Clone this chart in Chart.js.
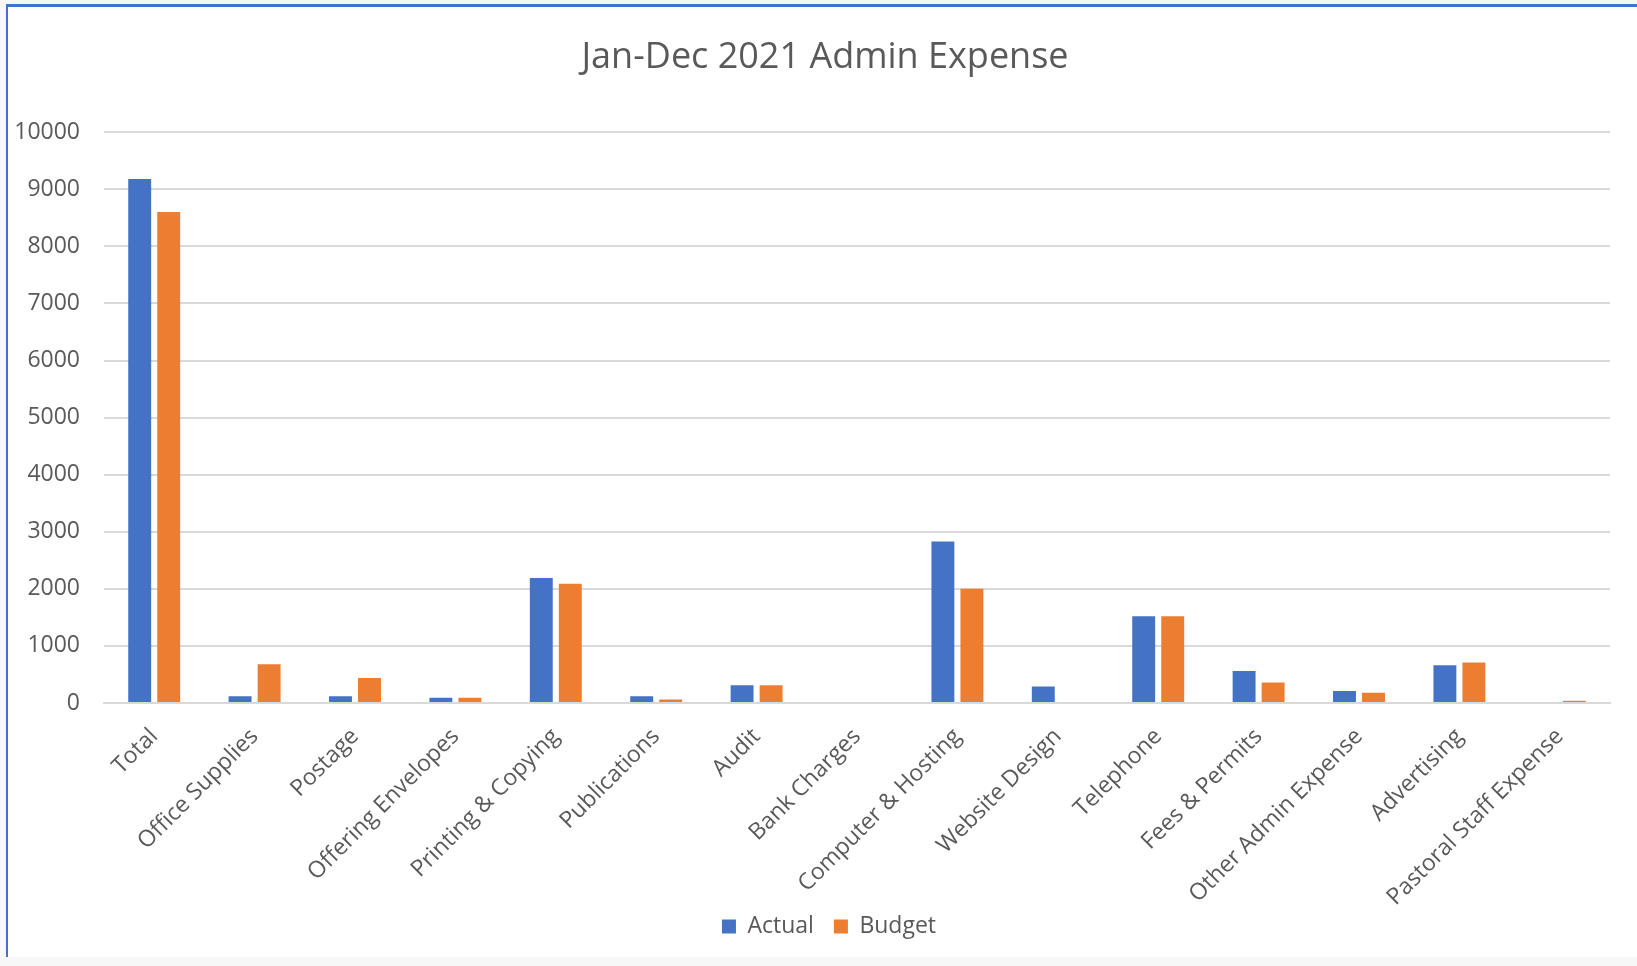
<!DOCTYPE html>
<html>
<head>
<meta charset="utf-8">
<script src="https://cdn.jsdelivr.net/npm/chart.js@4"></script>
<style>
  html, body { margin: 0; padding: 0; background: #f7f7f7; }
  #quadro {
    position: absolute; left: 6px; top: 4px; width: 1631px; height: 953px;
    background: #ffffff; border-left: 2px solid #4472c4; border-top: 3px solid #4472c4;
    box-sizing: border-box;
  }
</style>
</head>
<body>
<div id="quadro"><canvas id="chart-despesas"></canvas></div>
<script>
const categorias = [
  "Total", "Office Supplies", "Postage", "Offering Envelopes", "Printing & Copying",
  "Publications", "Audit", "Bank Charges", "Computer & Hosting", "Website Design",
  "Telephone", "Fees & Permits", "Other Admin Expense", "Advertising", "Pastoral Staff Expense"
];
const valoresActual = [9180, 120, 120, 90, 2190, 120, 310, 0, 2830, 290, 1520, 560, 210, 660, 0];
const valoresBudget = [8600, 680, 440, 90, 2090, 60, 310, 0, 2000, 0, 1520, 360, 180, 710, 40];
const ticksY = [0, 1000, 2000, 3000, 4000, 5000, 6000, 7000, 8000, 9000, 10000];

const corActual = "#4472c4";
const corBudget = "#ed7d31";
const corTexto = "#595959";
const corGrade = "#d9d9d9";
const fonte = "'Open Sans', 'Noto Sans', sans-serif";

// centraliza titulo e legenda como no Excel e libera o recorte dos rotulos do eixo x
const ajusteLayout = {
  id: "ajusteLayout",
  afterLayout(chart) {
    if (chart.titleBlock) { chart.titleBlock.left += 13; chart.titleBlock.right += 13; }
    if (chart.legend) {
      chart.legend.left += 17; chart.legend.right += 17;
      chart.legend.top -= 9; chart.legend.bottom -= 9;
    }
    chart.scales.x.bottom = chart.height;
  }
};

const ctx = document.getElementById("chart-despesas");

new Chart(ctx, {
  type: "bar",
  data: {
    labels: categorias,
    datasets: [
      { label: "Actual", data: valoresActual, backgroundColor: corActual },
      { label: "Budget", data: valoresBudget, backgroundColor: corBudget }
    ]
  },
  plugins: [ajusteLayout],
  options: {
    responsive: true,
    maintainAspectRatio: false,
    animation: false,
    layout: { padding: { left: 6, right: 27, top: 0, bottom: 0 } },
    datasets: { bar: { categoryPercentage: 0.578, barPercentage: 0.79 } },
    plugins: {
      title: {
        display: true,
        text: "Jan-Dec 2021 Admin Expense",
        color: corTexto,
        font: { family: fonte, size: 36, weight: "normal" },
        padding: { top: 29, bottom: 53 }
      },
      legend: {
        position: "bottom",
        labels: {
          color: corTexto,
          boxWidth: 14,
          boxHeight: 14,
          padding: 20,
          font: { family: fonte, size: 23 }
        }
      },
      tooltip: { enabled: false }
    },
    scales: {
      x: {
        grid: { display: false },
        border: { color: corGrade, width: 2 },
        afterFit: (eixo) => { eixo.height = 201; },
        ticks: {
          color: corTexto,
          minRotation: 45,
          maxRotation: 45,
          padding: 12,
          font: { family: fonte, size: 23 }
        }
      },
      y: {
        min: 0,
        max: 10000,
        afterBuildTicks: (eixo) => { eixo.ticks = ticksY.map(v => ({ value: v })); },
        afterFit: (eixo) => { eixo.width = 90; },
        grid: { color: corGrade, lineWidth: 2, drawTicks: false },
        border: { display: false },
        ticks: {
          color: corTexto,
          padding: 24,
          callback: (valor) => String(valor),
          font: { family: fonte, size: 23 }
        }
      }
    }
  }
});
</script>
</body>
</html>
